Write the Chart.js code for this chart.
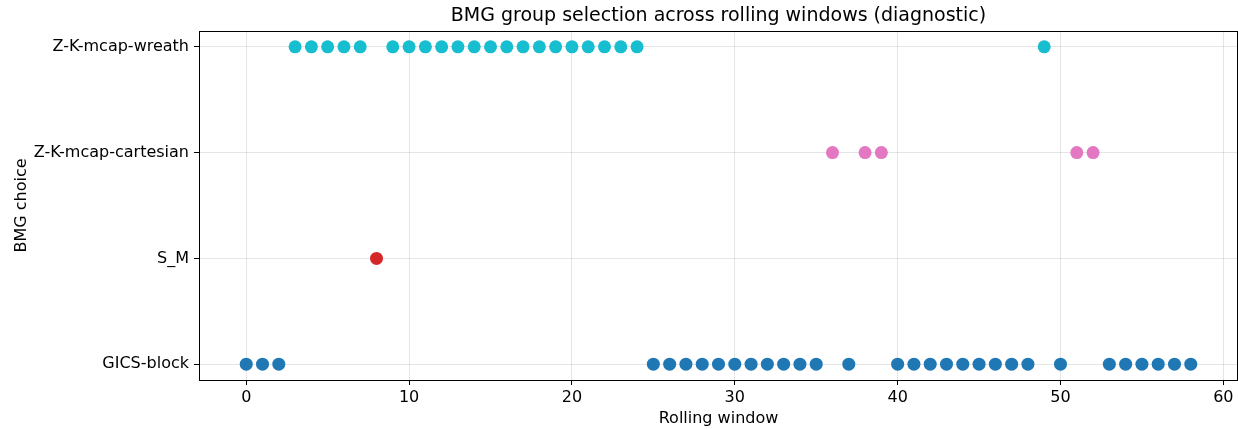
<!DOCTYPE html>
<html>
<head>
<meta charset="utf-8">
<script src="https://cdn.jsdelivr.net/npm/chart.js@4"></script>
<style>
  html, body { margin: 0; padding: 0; background: #fff; }
  #wrap { width: 1238px; height: 429px; }
</style>
</head>
<body>
<div id="wrap"><canvas id="bmg-chart" width="1238" height="429"></canvas></div>
<script>
// BMG choice per rolling window
const categories = ['GICS-block', 'S_M', 'Z-K-mcap-cartesian', 'Z-K-mcap-wreath'];
const catColors = ['#1f77b4', '#d62728', '#e377c2', '#17becf'];

const gicsWindows = [0, 1, 2, 25, 26, 27, 28, 29, 30, 31, 32, 33, 34, 35, 37,
    40, 41, 42, 43, 44, 45, 46, 47, 48, 50, 53, 54, 55, 56, 57, 58];
const smWindows = [8];
const cartesianWindows = [36, 38, 39, 51, 52];
const wreathWindows = [3, 4, 5, 6, 7, 9, 10, 11, 12, 13, 14, 15, 16, 17, 18, 19,
    20, 21, 22, 23, 24, 49];

const xTicks = [0, 10, 20, 30, 40, 50, 60];
const yTicks = [0, 1, 2, 3];

const windowsByCat = [gicsWindows, smWindows, cartesianWindows, wreathWindows];

const FONT = "'DejaVu Sans', sans-serif";

// draw the full box around the plot like matplotlib spines
const boxPlugin = {
    id: 'box',
    afterDraw(chart) {
        const a = chart.chartArea;
        const ctx = chart.ctx;
        ctx.save();
        ctx.strokeStyle = '#000';
        ctx.lineWidth = 1;
        ctx.strokeRect(Math.round(a.left) + 0.5, Math.round(a.top) + 0.5,
            Math.round(a.right - a.left) - 1, Math.round(a.bottom - a.top));
        ctx.restore();
    }
};

const datasets = categories.map((name, i) => ({
    label: name,
    data: windowsByCat[i].map(w => ({ x: w, y: i })),
    backgroundColor: catColors[i],
    borderColor: catColors[i],
    borderWidth: 0,
    pointRadius: 6.5,
    pointHoverRadius: 6.5
}));

const ctx = document.getElementById('bmg-chart').getContext('2d');
new Chart(ctx, {
    type: 'scatter',
    data: { datasets: datasets },
    options: {
        responsive: false,
        animation: false,
        events: [],
        layout: {
            autoPadding: false,
            padding: { left: 12, right: 0, top: 0, bottom: 0 }
        },
        plugins: {
            legend: { display: false },
            tooltip: { enabled: false },
            title: {
                display: true,
                fullSize: false, // centre over the plot area, not the canvas
                text: 'BMG group selection across rolling windows (diagnostic)',
                color: '#000',
                font: { family: FONT, size: 19, weight: 'normal' },
                padding: { top: 5, bottom: 3.2 }
            }
        },
        scales: {
            x: {
                type: 'linear',
                min: -2.9,
                max: 60.9,
                afterBuildTicks: (axis) => { axis.ticks = xTicks.map(v => ({ value: v })); },
                afterFit: (axis) => { axis.height = 49; },
                grid: {
                    color: 'rgba(0,0,0,0.1)',
                    tickColor: '#000',
                    tickLength: 5,
                    drawTicks: true
                },
                border: { color: '#000', width: 1 },
                ticks: {
                    color: '#000',
                    padding: 3,
                    maxRotation: 0,
                    font: { family: FONT, size: 16 }
                },
                title: {
                    display: true,
                    text: 'Rolling window',
                    color: '#000',
                    font: { family: FONT, size: 16 },
                    padding: { top: 0, bottom: 0.5 }
                }
            },
            y: {
                type: 'linear',
                min: -0.15,
                max: 3.15,
                afterBuildTicks: (axis) => { axis.ticks = yTicks.map(v => ({ value: v })); },
                afterFit: (axis) => { axis.width = 187; },
                grid: {
                    color: 'rgba(0,0,0,0.1)',
                    tickColor: '#000',
                    tickLength: 5,
                    drawTicks: true
                },
                border: { color: '#000', width: 1 },
                ticks: {
                    color: '#000',
                    padding: 5,
                    font: { family: FONT, size: 16 },
                    callback: (v) => categories[v]
                },
                title: {
                    display: true,
                    text: 'BMG choice',
                    color: '#000',
                    font: { family: FONT, size: 16 },
                    padding: { top: 0, bottom: 4 }
                }
            }
        }
    },
    plugins: [boxPlugin]
});
</script>
</body>
</html>
